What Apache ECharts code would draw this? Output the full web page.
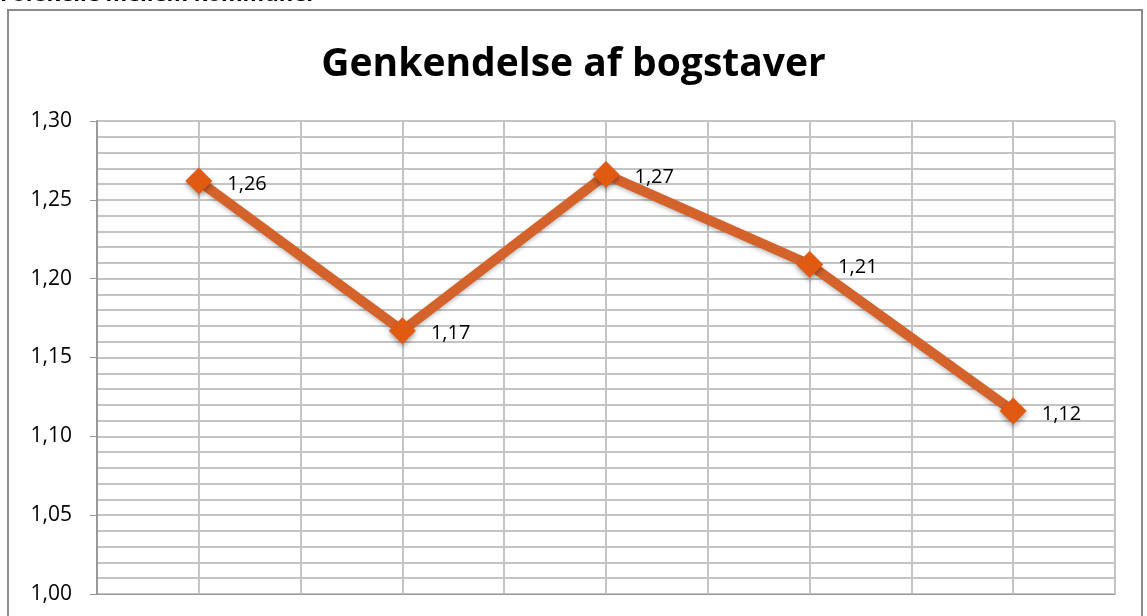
<!DOCTYPE html>
<html>
<head>
<meta charset="utf-8">
<script src="https://cdn.jsdelivr.net/npm/echarts@6/dist/echarts.min.js"></script>
<style>
    html, body { margin: 0; padding: 0; background: #fff; }
    #chart { width: 1147px; height: 616px; }
</style>
</head>
<body>
<div id="chart"></div>
<script>
// values
const categories = ['1', '2', '3', '4', '5']
const values = [1.262, 1.167, 1.266, 1.209, 1.116]
const yTicks = [1.00, 1.05, 1.10, 1.15, 1.20, 1.25, 1.30]

const comma = v => v.toFixed(2).replace('.', ',')
const font = 'Open Sans'

const chart = echarts.init(document.getElementById('chart'))
chart.setOption({
    animation: false,
    textStyle: { fontFamily: font },
    title: {
        text: 'Genkendelse af bogstaver',
        left: 'center',
        top: 40,
        textStyle: { fontSize: 39, fontWeight: 'bold', color: '#000', fontFamily: font }
    },
    graphic: [
        {
            type: 'text',
            left: 0,
            top: -16,
            style: { text: 'Forskelle mellem kommuner', fontSize: 22, fontWeight: 'bold', fill: '#000', fontFamily: font }
        },
        {
            type: 'rect',
            shape: { x: 8, y: 10, width: 1134, height: 620 },
            style: { fill: 'none', stroke: '#8a8a8a', lineWidth: 2 },
            silent: true
        }
    ],
    grid: { left: 97, right: 32, top: 121, bottom: 22 },
    xAxis: [
        {
            type: 'category',
            data: categories,
            boundaryGap: true,
            axisLabel: { show: false },
            axisTick: { show: false },
            axisLine: { lineStyle: { color: '#999', width: 1 } },
            splitLine: { show: false }
        },
        {
            // 10 columns of grid lines
            type: 'value',
            min: 0,
            max: 10,
            interval: 1,
            position: 'bottom',
            axisLabel: { show: false },
            axisTick: { show: false },
            axisLine: { show: false },
            splitLine: { show: true, lineStyle: { color: '#c4c4c4', width: 2 } }
        }
    ],
    yAxis: {
        type: 'value',
        min: yTicks[0],
        max: yTicks[yTicks.length - 1],
        interval: 0.05,
        axisLine: { show: true, lineStyle: { color: '#999', width: 2 } },
        axisTick: { show: true, length: 7, lineStyle: { color: '#999', width: 1 } },
        axisLabel: {
            formatter: v => comma(v),
            fontSize: 21,
            color: '#000',
            margin: 25,
            fontFamily: font
        },
        splitLine: { show: true, lineStyle: { color: '#c4c4c4', width: 2 } },
        minorTick: { show: false, splitNumber: 5 },
        minorSplitLine: { show: true, lineStyle: { color: '#c4c4c4', width: 2 } }
    },
    series: [{
        type: 'line',
        data: values,
        xAxisIndex: 0,
        symbol: 'diamond',
        symbolSize: 27,
        lineStyle: {
            color: '#d4622b',
            width: 10,
            shadowColor: 'rgba(0,0,0,0.25)',
            shadowBlur: 4,
            shadowOffsetY: 2
        },
        itemStyle: {
            color: '#e05a12',
            shadowColor: 'rgba(0,0,0,0.35)',
            shadowBlur: 5,
            shadowOffsetY: 3
        },
        label: {
            show: true,
            position: 'right',
            distance: 15,
            offset: [0, 3],
            formatter: p => comma(p.value),
            fontSize: 20,
            color: '#000',
            fontFamily: font
        }
    }]
})
</script>
</body>
</html>
